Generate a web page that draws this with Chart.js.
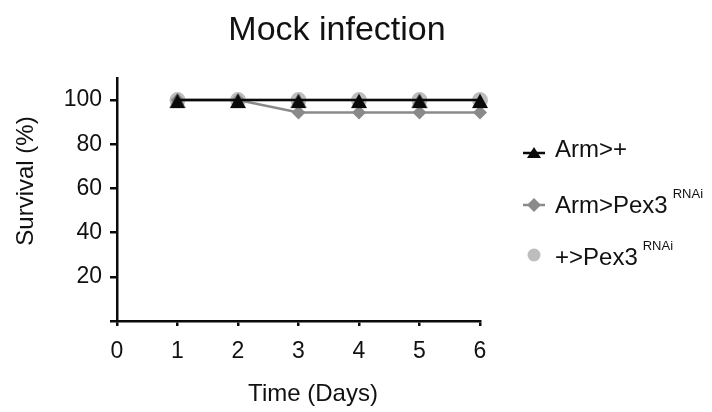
<!DOCTYPE html>
<html>
<head>
<meta charset="utf-8">
<script src="https://cdn.jsdelivr.net/npm/chart.js@4/dist/chart.umd.min.js"></script>
<style>
html,body{margin:0;padding:0;background:#fff;}
canvas{display:block;}
</style>
</head>
<body>
<canvas id="c" width="712" height="412"></canvas>
<script>
// ---- data ----
const days = [1, 2, 3, 4, 5, 6];
const armPlus = [100, 100, 100, 100, 100, 100];
const armPex3 = [100, 100, 94.4, 94.4, 94.4, 94.4];
const plusPex3 = [100, 100, 100, 100, 100, 100];
const xTicks = [0, 1, 2, 3, 4, 5, 6];
const yTicks = [0, 20, 40, 60, 80, 100];
const seriesNames = ['Arm>+', 'Arm>Pex3', '+>Pex3'];
const superscripts = ['', 'RNAi', 'RNAi'];
const chartTitle = 'Mock infection';
const xTitle = 'Time (Days)';
const yTitle = 'Survival (%)';

const FONT = '"Liberation Sans", Arial, Helvetica, sans-serif';
const BLACK = '#0a0a0a';
const GRAY = '#8a8a8a';
const LIGHT = '#bdbdbd';

// triangle marker image (base sits a little below the line, like the reference)
function triImage(color) {
  const c = document.createElement('canvas');
  c.width = 18; c.height = 18;
  const g = c.getContext('2d');
  g.fillStyle = color;
  g.beginPath();
  g.moveTo(9, 2.5);
  g.lineTo(17, 17);
  g.lineTo(1, 17);
  g.closePath();
  g.fill();
  return c;
}
const tri = triImage(BLACK);

function pts(arr) { return days.map((d, i) => ({x: d, y: arr[i]})); }

const overlay = {
  id: 'overlay',
  afterDraw(chart) {
    const ctx = chart.ctx;
    ctx.save();
    ctx.fillStyle = '#111';
    ctx.textBaseline = 'alphabetic';
    // title
    ctx.font = '34px ' + FONT;
    ctx.textAlign = 'center';
    ctx.fillText(chartTitle, 337, 40);
    // x title
    ctx.font = '24px ' + FONT;
    ctx.fillText(xTitle, 313, 401);
    // y title
    ctx.save();
    ctx.translate(33, 181);
    ctx.rotate(-Math.PI / 2);
    ctx.fillText(yTitle, 0, 0);
    ctx.restore();

    // legend
    const rows = [
      {my: 153, base: 157},
      {my: 205, base: 213},
      {my: 255, base: 265}
    ];
    const mx = 534;
    ctx.textAlign = 'left';
    rows.forEach((r, i) => {
      if (i === 0) {
        ctx.strokeStyle = BLACK; ctx.lineWidth = 2.5;
        ctx.beginPath(); ctx.moveTo(mx - 11, r.my); ctx.lineTo(mx + 11, r.my); ctx.stroke();
        ctx.fillStyle = BLACK;
        ctx.beginPath();
        ctx.moveTo(mx, r.my - 6); ctx.lineTo(mx + 7, r.my + 5); ctx.lineTo(mx - 7, r.my + 5);
        ctx.closePath(); ctx.fill();
      } else if (i === 1) {
        ctx.strokeStyle = GRAY; ctx.lineWidth = 2.5;
        ctx.beginPath(); ctx.moveTo(mx - 11, r.my); ctx.lineTo(mx + 11, r.my); ctx.stroke();
        ctx.fillStyle = GRAY;
        ctx.beginPath();
        ctx.moveTo(mx, r.my - 7); ctx.lineTo(mx + 7, r.my); ctx.lineTo(mx, r.my + 7); ctx.lineTo(mx - 7, r.my);
        ctx.closePath(); ctx.fill();
      } else {
        ctx.fillStyle = LIGHT;
        ctx.beginPath(); ctx.arc(mx, r.my, 6.5, 0, Math.PI * 2); ctx.fill();
      }
      ctx.fillStyle = '#111';
      ctx.font = '24px ' + FONT;
      ctx.fillText(seriesNames[i], 555, r.base);
      if (superscripts[i]) {
        const w = ctx.measureText(seriesNames[i]).width;
        ctx.font = '13px ' + FONT;
        ctx.fillText(superscripts[i], 555 + w + 5, r.base - 15);
      }
    });
    ctx.restore();
  }
};

new Chart(document.getElementById('c'), {
  type: 'line',
  data: {
    datasets: [
      {
        label: seriesNames[0], data: pts(armPlus), clip: false,
        borderColor: BLACK, borderWidth: 2.5, pointStyle: tri,
        pointRadius: 9, backgroundColor: BLACK, pointBorderWidth: 0
      },
      {
        label: seriesNames[1], data: pts(armPex3), clip: false,
        borderColor: GRAY, borderWidth: 2.5, pointStyle: 'rectRot',
        pointRadius: 7, pointBackgroundColor: GRAY, pointBorderColor: GRAY, pointBorderWidth: 0
      },
      {
        label: seriesNames[2], data: pts(plusPex3), clip: false,
        borderColor: LIGHT, borderWidth: 2.5, pointStyle: 'circle',
        pointRadius: 8, pointBackgroundColor: LIGHT, pointBorderColor: LIGHT, pointBorderWidth: 0
      }
    ]
  },
  options: {
    responsive: false,
    animation: false,
    devicePixelRatio: 1,
    events: [],
    layout: {padding: {top: 78, right: 232, left: 0, bottom: 0}},
    plugins: {legend: {display: false}, tooltip: {enabled: false}, title: {display: false}},
    scales: {
      x: {
        type: 'linear', min: 0, max: 6,
        afterBuildTicks: s => { s.ticks = xTicks.map(v => ({value: v})); },
        afterFit: s => { s.height = 91; },
        ticks: {color: '#111', font: {size: 23, family: FONT}, padding: 12, maxRotation: 0},
        grid: {drawOnChartArea: false, drawTicks: true, tickLength: 5, color: BLACK, lineWidth: 2.5},
        border: {display: true, color: BLACK, width: 2.5}
      },
      y: {
        min: 0, max: 110,
        afterBuildTicks: s => { s.ticks = yTicks.map(v => ({value: v})); },
        afterFit: s => { s.width = 117; },
        ticks: {color: '#111', font: {size: 23, family: FONT}, padding: 8,
          callback: v => (v === 0 ? '' : String(v))},
        grid: {drawOnChartArea: false, drawTicks: true, tickLength: 7, color: BLACK, lineWidth: 2.5},
        border: {display: true, color: BLACK, width: 2.5}
      }
    }
  },
  plugins: [overlay]
});
</script>
</body>
</html>
